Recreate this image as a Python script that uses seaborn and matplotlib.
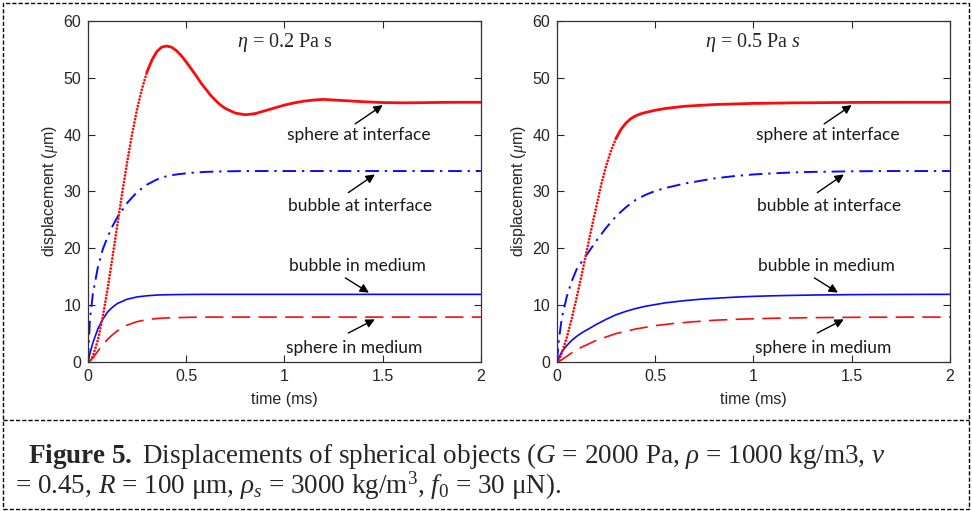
import matplotlib
matplotlib.use("Agg")
import matplotlib.pyplot as plt
import seaborn as sns
from matplotlib.patches import Rectangle
from matplotlib.lines import Line2D

# time axis (ms) for the smoother curves
time_ms = [0, 0.01, 0.025, 0.05, 0.075, 0.1, 0.125, 0.15, 0.2, 0.25, 0.3, 0.35,
           0.4, 0.45, 0.5, 0.55, 0.6, 0.65, 0.7, 0.75, 0.8, 0.85, 0.9, 0.95,
           1.0, 1.1, 1.2, 1.3, 1.4, 1.5, 1.6, 1.7, 1.8, 1.9, 2.0]
# finer time axis (ms) for the sphere-at-interface curves
time_fine = [0, 0.01, 0.025, 0.05, 0.075, 0.1, 0.125, 0.15, 0.175, 0.2, 0.225, 0.25,
             0.275, 0.3, 0.325, 0.35, 0.375, 0.4, 0.425, 0.45, 0.475, 0.5, 0.525, 0.55,
             0.575, 0.6, 0.625, 0.65, 0.675, 0.7, 0.75, 0.8, 0.85, 0.9, 0.95, 1.0,
             1.05, 1.1, 1.15, 1.2, 1.3, 1.4, 1.5, 1.6, 1.7, 1.8, 1.9, 2.0]

# eta = 0.2 Pa s  (displacement in um)
sphere_iface_02 = [0, 0.17, 1.0, 3.8, 7.9, 12.9, 18.5, 24.2, 29.95, 35.3, 40.2, 44.5,
                   48.1, 51.0, 53.1, 54.6, 55.4, 55.6, 55.4, 54.8, 53.9, 52.8, 51.6, 50.4,
                   49.1, 48.0, 46.9, 46.0, 45.2, 44.6, 43.8, 43.5, 43.7, 44.2, 44.7, 45.2,
                   45.6, 45.9, 46.1, 46.2, 46.0, 45.8, 45.65, 45.6, 45.63, 45.68, 45.7, 45.7]
bubble_iface_02 = [0, 7.5, 12.0, 16.6, 19.8, 22.0, 23.9, 25.5, 28.0, 29.9, 31.2, 32.1,
                   32.7, 33.0, 33.2, 33.35, 33.45, 33.5, 33.55, 33.57, 33.6, 33.6, 33.6, 33.6,
                   33.6, 33.6, 33.6, 33.6, 33.6, 33.6, 33.6, 33.6, 33.6, 33.6, 33.6]
bubble_med_02 = [0, 1.5, 3.4, 5.8, 7.5, 8.8, 9.65, 10.3, 11.05, 11.45, 11.65, 11.78,
                 11.83, 11.86, 11.88, 11.89, 11.9, 11.9, 11.9, 11.9, 11.9, 11.9, 11.9, 11.9,
                 11.9, 11.9, 11.9, 11.9, 11.9, 11.9, 11.9, 11.9, 11.9, 11.9, 11.9]
sphere_med_02 = [0, 0.2, 0.7, 1.9, 3.0, 4.0, 4.8, 5.5, 6.5, 7.1, 7.45, 7.65,
                 7.75, 7.8, 7.85, 7.88, 7.9, 7.9, 7.9, 7.9, 7.9, 7.9, 7.9, 7.9,
                 7.9, 7.9, 7.9, 7.9, 7.9, 7.9, 7.9, 7.9, 7.9, 7.9, 7.9]

# eta = 0.5 Pa s
sphere_iface_05 = [0, 0.2, 1.6, 4.3, 7.6, 11.3, 15.2, 19.3, 23.4, 27.3, 31.2, 34.5,
                   37.2, 39.3, 40.9, 42.0, 42.8, 43.3, 43.65, 43.9, 44.1, 44.3, 44.45, 44.6,
                   44.7, 44.8, 44.9, 45.0, 45.05, 45.1, 45.2, 45.3, 45.35, 45.4, 45.45, 45.5,
                   45.52, 45.55, 45.57, 45.6, 45.62, 45.65, 45.67, 45.68, 45.69, 45.7, 45.7, 45.7]
bubble_iface_05 = [0, 4.0, 7.8, 11.5, 14.2, 16.3, 17.6, 18.8, 21.3, 23.6, 25.6, 27.2,
                   28.5, 29.4, 30.1, 30.6, 31.0, 31.4, 31.7, 32.0, 32.3, 32.5, 32.7, 32.85,
                   33.0, 33.2, 33.35, 33.45, 33.5, 33.55, 33.58, 33.6, 33.6, 33.6, 33.6]
bubble_med_05 = [0, 0.8, 1.8, 2.9, 3.8, 4.5, 5.1, 5.6, 6.6, 7.5, 8.3, 8.9,
                 9.4, 9.8, 10.1, 10.4, 10.6, 10.8, 10.95, 11.1, 11.2, 11.3, 11.4, 11.48,
                 11.55, 11.65, 11.72, 11.78, 11.82, 11.85, 11.87, 11.88, 11.89, 11.9, 11.9]
sphere_med_05 = [0, 0.1, 0.4, 1.0, 1.6, 2.1, 2.6, 3.0, 3.8, 4.4, 5.0, 5.4,
                 5.8, 6.1, 6.4, 6.6, 6.8, 6.95, 7.1, 7.2, 7.35, 7.42, 7.5, 7.55,
                 7.6, 7.7, 7.75, 7.8, 7.83, 7.86, 7.88, 7.89, 7.9, 7.9, 7.9]

panel_titles = [r"$\eta$ = 0.2 Pa s", r"$\eta$ = 0.5 Pa $s$"]
curve_labels = ["sphere at interface", "bubble at interface", "bubble in medium", "sphere in medium"]
x_ticks = [0, 0.5, 1, 1.5, 2]
x_ticklabels = ["0", "0.5", "1", "1.5", "2"]
y_ticks = [0, 10, 20, 30, 40, 50, 60]

RED = "#ff0a0a"
BLUE = "#0a0aff"

sns.set_style("ticks")
plt.rcParams["font.family"] = ["Liberation Sans", "DejaVu Sans"]
plt.rcParams["mathtext.fontset"] = "custom"
plt.rcParams["mathtext.rm"] = "Liberation Serif"
plt.rcParams["mathtext.it"] = "Liberation Serif:italic"
plt.rcParams["mathtext.bf"] = "Liberation Serif:bold"

fig = plt.figure(figsize=(9.72, 5.11), dpi=100)
ax1 = fig.add_axes([0.0905, 0.2916, 0.4043, 0.6673])
ax2 = fig.add_axes([0.5730, 0.2916, 0.4043, 0.6673])

panels = [
    (ax1, sphere_iface_02, bubble_iface_02, bubble_med_02, sphere_med_02),
    (ax2, sphere_iface_05, bubble_iface_05, bubble_med_05, sphere_med_05),
]

# text centre, arrow tail, arrow head (data coords)
notes = [
    (1.38, 40.0, (1.36, 41.9), (1.50, 45.2)),
    (1.385, 27.5, (1.325, 29.8), (1.46, 33.0)),
    (1.37, 16.9, (1.31, 14.8), (1.43, 12.2)),
    (1.355, 2.5, (1.325, 5.1), (1.46, 7.5)),
]

n_dot = time_fine.index(0.3) + 1  # steep start is drawn as dots

for i, (ax, s_if, b_if, b_med, s_med) in enumerate(panels):
    sns.lineplot(x=time_ms, y=s_med, ax=ax, color=RED, lw=1.2,
                 linestyle=(0, (11, 5)))
    sns.lineplot(x=time_ms, y=b_med, ax=ax, color=BLUE, lw=1.2)
    sns.lineplot(x=time_ms, y=b_if, ax=ax, color=BLUE, lw=1.4,
                 linestyle=(0, (7, 3, 1.2, 3)))
    sns.lineplot(x=time_fine[:n_dot], y=s_if[:n_dot], ax=ax, color=RED, lw=2.0,
                 linestyle=(0, (0.01, 1.2)), dash_capstyle="round")
    sns.lineplot(x=time_fine[n_dot - 1:], y=s_if[n_dot - 1:], ax=ax, color=RED, lw=2.0)

    ax.set_xlim(0, 2)
    ax.set_ylim(0, 60)
    ax.set_xticks(x_ticks)
    ax.set_xticklabels(x_ticklabels)
    ax.set_yticks(y_ticks)
    ax.tick_params(direction="in", top=True, right=True, length=5, width=0.8,
                   labelsize=11.5, colors="#262626", pad=5)
    for sp in ax.spines.values():
        sp.set_visible(True)
        sp.set_color("#333333")
        sp.set_linewidth(0.9)
    ax.set_xlabel("time (ms)", fontsize=11.5, color="#262626", labelpad=6)
    ax.set_ylabel(r"displacement ($\mu$m)", fontsize=11.5, color="#262626", labelpad=2.5)

    ax.text(1.0, 56.3, panel_titles[i], ha="center", va="center", fontsize=14.5,
            family="Liberation Serif")
    for lab, (tx, ty, tail, head) in zip(curve_labels, notes):
        ax.text(tx, ty, lab, ha="center", va="center", fontsize=12.5, family="Lato",
                color="#1a1a1a")
        ax.annotate("", xy=head, xytext=tail,
                    arrowprops=dict(arrowstyle="-|>", color="black", lw=1,
                                    mutation_scale=13, shrinkA=0, shrinkB=0))

# dashed frames
fig.add_artist(Rectangle((3 / 972, 1 - 509 / 511), 966 / 972, 506 / 511,
                         transform=fig.transFigure, fill=False, ec="black",
                         lw=1, ls=(0, (3, 1.5))))
fig.add_artist(Line2D([3 / 972, 969 / 972], [1 - 420 / 511, 1 - 420 / 511],
                      transform=fig.transFigure, color="black", lw=1,
                      ls=(0, (3, 1.5))))

cap1 = (r"$\mathbf{Figure\ 5.}$ Displacements of spherical objects ($G$ = 2000 Pa, "
        r"$\rho$ = 1000 kg/m3, $\nu$")
cap2 = r"= 0.45, $R$ = 100 μm, $\rho_s$ = 3000 kg/m$^3$, $f_0$ = 30 μN)."
fig.text(28 / 972, 1 - 463 / 511, cap1, fontsize=19.5, family="Liberation Serif",
         ha="left", va="baseline")
fig.text(15 / 972, 1 - 494 / 511, cap2, fontsize=19.5, family="Liberation Serif",
         ha="left", va="baseline")

fig.savefig("out.png", dpi=100)
